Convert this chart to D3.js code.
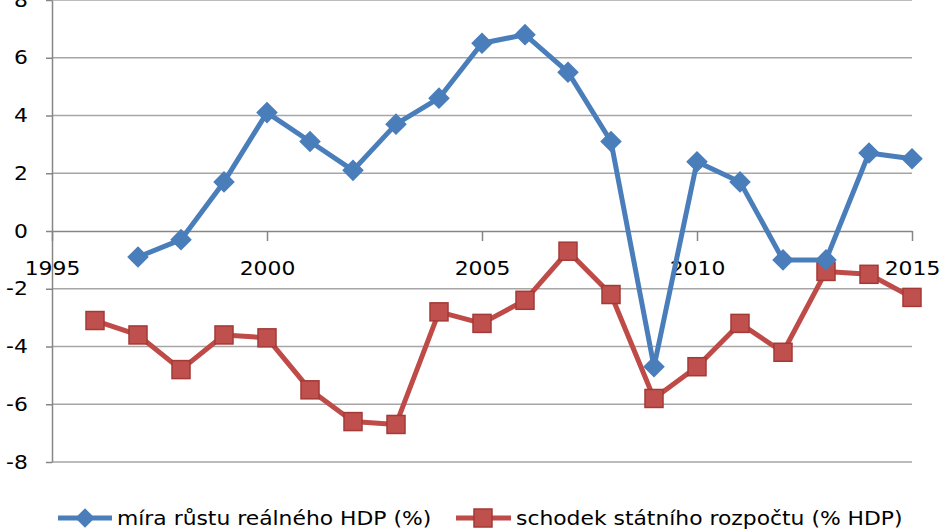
<!DOCTYPE html>
<html>
<head>
<meta charset="utf-8">
<script src="https://cdn.jsdelivr.net/npm/d3@7"></script>
<style>
  body { margin: 0; background: #fff; }
  text { font-family: "DejaVu Sans", Verdana, sans-serif; }
</style>
</head>
<body>
<script>
// data
const gdpYears = [1997, 1998, 1999, 2000, 2001, 2002, 2003, 2004, 2005, 2006,
                  2007, 2008, 2009, 2010, 2011, 2012, 2013, 2014, 2015]
const gdpGrowth = [-0.9, -0.3, 1.7, 4.1, 3.1, 2.1, 3.7, 4.6, 6.5, 6.8,
                   5.5, 3.1, -4.7, 2.4, 1.7, -1.0, -1.0, 2.7, 2.5]
const defYears = [1996, 1997, 1998, 1999, 2000, 2001, 2002, 2003, 2004, 2005,
                  2006, 2007, 2008, 2009, 2010, 2011, 2012, 2013, 2014, 2015]
const deficit = [-3.1, -3.6, -4.8, -3.6, -3.7, -5.5, -6.6, -6.7, -2.8, -3.2,
                 -2.4, -0.7, -2.2, -5.8, -4.7, -3.2, -4.2, -1.4, -1.5, -2.3]
const xTicks = [1995, 2000, 2005, 2010, 2015]
const yTicks = [-8, -6, -4, -2, 0, 2, 4, 6, 8]
const seriesNames = ["míra růstu reálného HDP (%)", "schodek státního rozpočtu (% HDP)"]

const w = 942, h = 530
const blue = "#4a7ebb", red = "#be4b48"
const stretch = "scale(1.15,1)"   // text in the picture is a bit wide

let svg = d3.select("body").append("svg")
            .attr("width", w)
            .attr("height", h)

const x = d3.scaleLinear().domain([1995, 2015]).range([52, 912])
const y = d3.scaleLinear().domain([-8, 8]).range([462, 0])

// horizontal gridlines
svg.selectAll("line.grid")
   .data(yTicks.filter(d => d !== 0))
   .enter().append("line")
   .attr("class", "grid")
   .attr("x1", x(1995)).attr("x2", x(2015))
   .attr("y1", d => y(d)).attr("y2", d => y(d))
   .attr("stroke", "#a6a6a6")
   .attr("stroke-width", 1.5)

// y axis
let yAxis = svg.append("g")
               .attr("transform", "translate(" + x(1995) + ",0)")
               .call(d3.axisLeft(y).tickValues(yTicks).tickFormat(d => String(d)).tickSize(6).tickSizeOuter(0))
yAxis.select(".domain").attr("stroke", "#868686").attr("stroke-width", 1.5)
yAxis.selectAll(".tick line").attr("stroke", "#868686").attr("stroke-width", 1.5)
yAxis.selectAll(".tick text")
     .attr("x", -21)
     .attr("transform", stretch)
     .attr("font-size", "19px")
     .attr("font-family", "DejaVu Sans")
     .attr("fill", "#000")

// x axis through zero
let xAxis = svg.append("g")
               .attr("transform", "translate(0," + y(0) + ")")
               .call(d3.axisBottom(x).tickValues(xTicks).tickFormat(d3.format("d")).tickSize(10).tickSizeOuter(0))
xAxis.select(".domain").attr("stroke", "#868686").attr("stroke-width", 1.5)
xAxis.selectAll(".tick line").attr("stroke", "#868686").attr("stroke-width", 1.5)
xAxis.selectAll(".tick text")
     .attr("y", 31)
     .attr("transform", stretch)
     .attr("font-size", "19px")
     .attr("font-family", "DejaVu Sans")
     .attr("fill", "#000")

const line = d3.line().x(d => x(d[0])).y(d => y(d[1]))

let gdpData = gdpYears.map((yr, i) => [yr, gdpGrowth[i]])
let defData = defYears.map((yr, i) => [yr, deficit[i]])

// deficit series
svg.append("path")
   .datum(defData)
   .attr("d", line)
   .attr("fill", "none")
   .attr("stroke", red)
   .attr("stroke-width", 5)
   .attr("stroke-linejoin", "round")

svg.selectAll("rect.def")
   .data(defData)
   .enter().append("rect")
   .attr("class", "def")
   .attr("x", d => x(d[0]) - 9)
   .attr("y", d => y(d[1]) - 9)
   .attr("width", 18)
   .attr("height", 18)
   .attr("fill", "#c0504d")
   .attr("stroke", "#a33a36")
   .attr("stroke-width", 1.5)

// gdp series
svg.append("path")
   .datum(gdpData)
   .attr("d", line)
   .attr("fill", "none")
   .attr("stroke", blue)
   .attr("stroke-width", 5)
   .attr("stroke-linejoin", "round")

const diamond = d3.symbol().type(d3.symbolSquare).size(190)
svg.selectAll("path.gdp")
   .data(gdpData)
   .enter().append("path")
   .attr("class", "gdp")
   .attr("d", diamond)
   .attr("transform", d => "translate(" + x(d[0]) + "," + y(d[1]) + ") rotate(45)")
   .attr("fill", blue)
   .attr("stroke", blue)
   .attr("stroke-width", 1.5)

// legend
let legend = svg.append("g").attr("transform", "translate(0,518)")

legend.append("line")
      .attr("x1", 58).attr("x2", 112).attr("y1", 0).attr("y2", 0)
      .attr("stroke", blue).attr("stroke-width", 5)
legend.append("path")
      .attr("d", diamond)
      .attr("transform", "translate(85,0) rotate(45)")
      .attr("fill", blue)
legend.append("text")
      .attr("transform", "translate(117,7) " + stretch)
      .attr("font-size", "19px")
      .text(seriesNames[0])

legend.append("line")
      .attr("x1", 456).attr("x2", 511).attr("y1", 0).attr("y2", 0)
      .attr("stroke", red).attr("stroke-width", 5)
legend.append("rect")
      .attr("x", 474).attr("y", -9).attr("width", 18).attr("height", 18)
      .attr("fill", "#c0504d").attr("stroke", "#a33a36").attr("stroke-width", 1.5)
legend.append("text")
      .attr("transform", "translate(516,7) " + stretch)
      .attr("font-size", "19px")
      .text(seriesNames[1])
</script>
</body>
</html>
